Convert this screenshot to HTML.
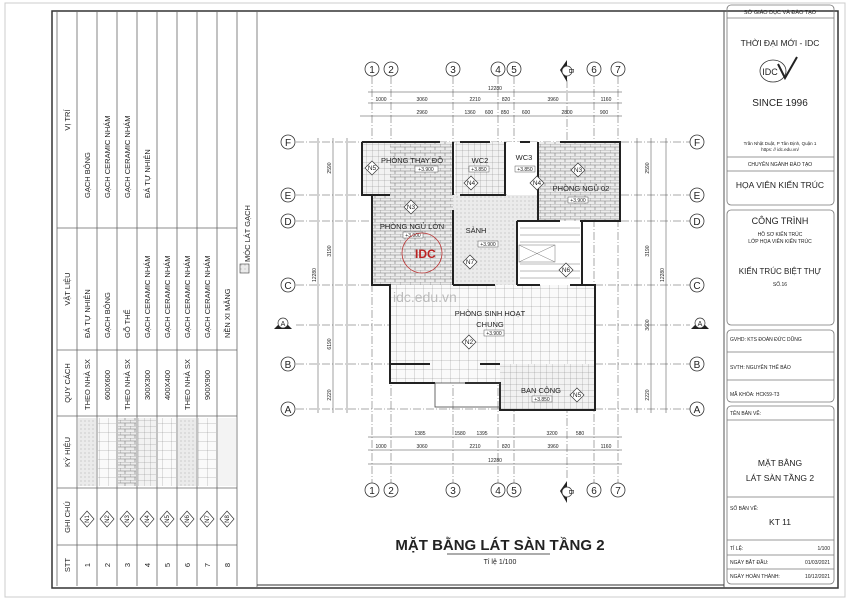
<!DOCTYPE html>
<html><head><meta charset="utf-8"><style>
html,body{margin:0;padding:0;background:#fff}
svg{display:block}
text{font-family:"Liberation Sans",sans-serif;fill:#222}
</style></head><body>
<svg width="850" height="601" viewBox="0 0 850 601" xmlns="http://www.w3.org/2000/svg">
<defs>
<pattern id="brick" width="10" height="6" patternUnits="userSpaceOnUse">
<rect width="10" height="6" fill="#ececec"/>
<path d="M0 0H10M0 3H10M0 0V3M5 3V6" stroke="#777" stroke-width="0.6" fill="none"/>
</pattern>
<pattern id="grid" width="9" height="9" patternUnits="userSpaceOnUse">
<rect width="9" height="9" fill="#fafafa"/>
<path d="M0 0H9M0 0V9" stroke="#888" stroke-width="0.5" fill="none"/>
</pattern>
<pattern id="grid6" width="6" height="6" patternUnits="userSpaceOnUse">
<rect width="6" height="6" fill="#f2f2f2"/>
<path d="M0 0H6M0 0V6" stroke="#888" stroke-width="0.5" fill="none"/>
</pattern>
<pattern id="dots" width="4" height="4" patternUnits="userSpaceOnUse">
<rect width="4" height="4" fill="#ebebeb"/>
<circle cx="1" cy="1" r="0.5" fill="#999"/>
</pattern>
</defs>

<rect x="5" y="3" width="840" height="594" fill="none" stroke="#ccc" stroke-width="1"/>
<rect x="52" y="11" width="786" height="577" fill="none" stroke="#333" stroke-width="1.5"/>
<line x1="724" y1="11" x2="724" y2="588" stroke="#555" stroke-width="1"/>
<line x1="257" y1="11" x2="257" y2="588" stroke="#666" stroke-width="0.8"/>

<g stroke="#666" stroke-width="0.8" fill="none">
<line x1="57" y1="12" x2="57" y2="586"/>
<line x1="77" y1="12" x2="77" y2="586"/>
<line x1="97" y1="12" x2="97" y2="586"/>
<line x1="117" y1="12" x2="117" y2="586"/>
<line x1="137" y1="12" x2="137" y2="586"/>
<line x1="157" y1="12" x2="157" y2="586"/>
<line x1="177" y1="12" x2="177" y2="586"/>
<line x1="197" y1="12" x2="197" y2="586"/>
<line x1="217" y1="12" x2="217" y2="586"/>
<line x1="237" y1="12" x2="237" y2="586"/>
<line x1="57" y1="228" x2="237" y2="228"/>
<line x1="57" y1="350" x2="237" y2="350"/>
<line x1="57" y1="416" x2="237" y2="416"/>
<line x1="57" y1="488" x2="237" y2="488"/>
<line x1="57" y1="545" x2="237" y2="545"/>
</g>
<rect x="78" y="418" width="18" height="68" fill="url(#dots)"/>
<rect x="98" y="418" width="18" height="68" fill="url(#grid)"/>
<rect x="118" y="418" width="18" height="68" fill="url(#brick)"/>
<rect x="138" y="418" width="18" height="68" fill="url(#grid6)"/>
<rect x="158" y="418" width="18" height="68" fill="url(#grid)"/>
<rect x="178" y="418" width="18" height="68" fill="url(#dots)"/>
<rect x="198" y="418" width="18" height="68" fill="url(#grid)"/>
<rect x="218" y="418" width="18" height="68" fill="#f3f3f3"/>
<g font-size="7.5">
<text transform="translate(70,565) rotate(-90)" text-anchor="middle">STT</text>
<text transform="translate(70,517) rotate(-90)" text-anchor="middle">GHI CHÚ</text>
<text transform="translate(70,452) rotate(-90)" text-anchor="middle">KÝ HIỆU</text>
<text transform="translate(70,383) rotate(-90)" text-anchor="middle">QUY CÁCH</text>
<text transform="translate(70,289) rotate(-90)" text-anchor="middle">VẬT LIỆU</text>
<text transform="translate(70,120) rotate(-90)" text-anchor="middle">VỊ TRÍ</text>
</g>
<g font-size="7.5" text-anchor="middle">
<text transform="translate(90,565) rotate(-90)">1</text>
<text transform="translate(110,565) rotate(-90)">2</text>
<text transform="translate(130,565) rotate(-90)">3</text>
<text transform="translate(150,565) rotate(-90)">4</text>
<text transform="translate(170,565) rotate(-90)">5</text>
<text transform="translate(190,565) rotate(-90)">6</text>
<text transform="translate(210,565) rotate(-90)">7</text>
<text transform="translate(230,565) rotate(-90)">8</text>
</g>
<g font-size="6" text-anchor="middle" stroke-width="0.7">
<g transform="translate(87,519)"><path d="M0 -8L7 0L0 8L-7 0Z" fill="#fff" stroke="#333"/><text transform="rotate(-90)" y="2">N1</text></g>
<g transform="translate(107,519)"><path d="M0 -8L7 0L0 8L-7 0Z" fill="#fff" stroke="#333"/><text transform="rotate(-90)" y="2">N2</text></g>
<g transform="translate(127,519)"><path d="M0 -8L7 0L0 8L-7 0Z" fill="#fff" stroke="#333"/><text transform="rotate(-90)" y="2">N3</text></g>
<g transform="translate(147,519)"><path d="M0 -8L7 0L0 8L-7 0Z" fill="#fff" stroke="#333"/><text transform="rotate(-90)" y="2">N4</text></g>
<g transform="translate(167,519)"><path d="M0 -8L7 0L0 8L-7 0Z" fill="#fff" stroke="#333"/><text transform="rotate(-90)" y="2">N5</text></g>
<g transform="translate(187,519)"><path d="M0 -8L7 0L0 8L-7 0Z" fill="#fff" stroke="#333"/><text transform="rotate(-90)" y="2">N6</text></g>
<g transform="translate(207,519)"><path d="M0 -8L7 0L0 8L-7 0Z" fill="#fff" stroke="#333"/><text transform="rotate(-90)" y="2">N7</text></g>
<g transform="translate(227,519)"><path d="M0 -8L7 0L0 8L-7 0Z" fill="#fff" stroke="#333"/><text transform="rotate(-90)" y="2">N8</text></g>
</g>
<g font-size="7.5">
<text transform="translate(90,410) rotate(-90)">THEO NHÀ SX</text>
<text transform="translate(110,400) rotate(-90)">600X600</text>
<text transform="translate(130,410) rotate(-90)">THEO NHÀ SX</text>
<text transform="translate(150,400) rotate(-90)">300X300</text>
<text transform="translate(170,400) rotate(-90)">400X400</text>
<text transform="translate(190,410) rotate(-90)">THEO NHÀ SX</text>
<text transform="translate(210,400) rotate(-90)">900X900</text>
<text transform="translate(90,338) rotate(-90)">ĐÁ TỰ NHIÊN</text>
<text transform="translate(110,338) rotate(-90)">GẠCH BÔNG</text>
<text transform="translate(130,338) rotate(-90)">GỖ THỂ</text>
<text transform="translate(150,338) rotate(-90)">GẠCH CERAMIC NHÁM</text>
<text transform="translate(170,338) rotate(-90)">GẠCH CERAMIC NHÁM</text>
<text transform="translate(190,338) rotate(-90)">GẠCH CERAMIC NHÁM</text>
<text transform="translate(210,338) rotate(-90)">GẠCH CERAMIC NHÁM</text>
<text transform="translate(230,338) rotate(-90)">NỀN XI MĂNG</text>
<text transform="translate(90,198) rotate(-90)">GẠCH BÔNG</text>
<text transform="translate(110,198) rotate(-90)">GẠCH CERAMIC NHÁM</text>
<text transform="translate(130,198) rotate(-90)">GẠCH CERAMIC NHÁM</text>
<text transform="translate(150,198) rotate(-90)">ĐÁ TỰ NHIÊN</text>
<text transform="translate(250,262) rotate(-90)">MÓC LÁT GẠCH</text>
</g>
<rect x="240" y="264" width="9" height="9" fill="url(#dots)" stroke="#444" stroke-width="0.6"/>

<g stroke="#555" stroke-width="0.5" stroke-dasharray="8,2,1,2" fill="none">
<line x1="372" y1="76" x2="372" y2="483"/>
<line x1="391" y1="76" x2="391" y2="483"/>
<line x1="453" y1="76" x2="453" y2="483"/>
<line x1="498" y1="76" x2="498" y2="483"/>
<line x1="514" y1="76" x2="514" y2="483"/>
<line x1="567" y1="80" x2="567" y2="480"/>
<line x1="594" y1="76" x2="594" y2="483"/>
<line x1="618" y1="76" x2="618" y2="483"/>
<line x1="296" y1="142" x2="690" y2="142"/>
<line x1="296" y1="195" x2="690" y2="195"/>
<line x1="296" y1="221" x2="690" y2="221"/>
<line x1="296" y1="285" x2="690" y2="285"/>
<line x1="296" y1="325" x2="690" y2="325"/>
<line x1="296" y1="364" x2="690" y2="364"/>
<line x1="296" y1="409" x2="690" y2="409"/>
</g>
<g font-size="10" text-anchor="middle" fill="#fff" stroke="#333" stroke-width="0.8">
<circle cx="372" cy="69" r="7"/><circle cx="391" cy="69" r="7"/><circle cx="453" cy="69" r="7"/><circle cx="498" cy="69" r="7"/><circle cx="514" cy="69" r="7"/><circle cx="594" cy="69" r="7"/><circle cx="618" cy="69" r="7"/>
<circle cx="372" cy="490" r="7"/><circle cx="391" cy="490" r="7"/><circle cx="453" cy="490" r="7"/><circle cx="498" cy="490" r="7"/><circle cx="514" cy="490" r="7"/><circle cx="594" cy="490" r="7"/><circle cx="618" cy="490" r="7"/>
<circle cx="288" cy="142" r="7"/><circle cx="288" cy="195" r="7"/><circle cx="288" cy="221" r="7"/><circle cx="288" cy="285" r="7"/><circle cx="288" cy="364" r="7"/><circle cx="288" cy="409" r="7"/>
<circle cx="697" cy="142" r="7"/><circle cx="697" cy="195" r="7"/><circle cx="697" cy="221" r="7"/><circle cx="697" cy="285" r="7"/><circle cx="697" cy="364" r="7"/><circle cx="697" cy="409" r="7"/>
</g>
<g font-size="10" text-anchor="middle">
<text x="372" y="73">1</text><text x="391" y="73">2</text><text x="453" y="73">3</text><text x="498" y="73">4</text><text x="514" y="73">5</text><text x="594" y="73">6</text><text x="618" y="73">7</text>
<text x="372" y="494">1</text><text x="391" y="494">2</text><text x="453" y="494">3</text><text x="498" y="494">4</text><text x="514" y="494">5</text><text x="594" y="494">6</text><text x="618" y="494">7</text>
<text x="288" y="146">F</text><text x="288" y="199">E</text><text x="288" y="225">D</text><text x="288" y="289">C</text><text x="288" y="368">B</text><text x="288" y="413">A</text>
<text x="697" y="146">F</text><text x="697" y="199">E</text><text x="697" y="225">D</text><text x="697" y="289">C</text><text x="697" y="368">B</text><text x="697" y="413">A</text>
</g>
<g fill="#222">
<path d="M567 60 L560 70 L567 82 Z"/><path d="M567 481 L560 491 L567 503 Z"/>
<path d="M274 329 L283 320 L292 329 Z"/><path d="M691 329 L700 320 L709 329 Z"/>
</g>
<g fill="#fff" stroke="#333" stroke-width="0.7"><circle cx="567" cy="71" r="5"/><circle cx="567" cy="492" r="5"/><circle cx="283" cy="323" r="5"/><circle cx="700" cy="323" r="5"/></g>
<g font-size="7" text-anchor="middle"><text x="283" y="326">A</text><text x="700" y="326">A</text>
<text transform="translate(569,71) rotate(90)">B</text><text transform="translate(569,492) rotate(90)">B</text></g>

<g stroke="#444" stroke-width="0.5">
<line x1="368" y1="92" x2="622" y2="92"/><line x1="368" y1="103" x2="622" y2="103"/><line x1="360" y1="116" x2="622" y2="116"/>
<line x1="368" y1="437" x2="622" y2="437"/><line x1="368" y1="450" x2="622" y2="450"/><line x1="368" y1="464" x2="622" y2="464"/>
<line x1="318" y1="138" x2="318" y2="413"/><line x1="333" y1="138" x2="333" y2="413"/><line x1="347" y1="138" x2="347" y2="413"/>
<line x1="637" y1="138" x2="637" y2="413"/><line x1="651" y1="138" x2="651" y2="413"/><line x1="666" y1="138" x2="666" y2="413"/>
</g>
<g font-size="5" text-anchor="middle" fill="#333">
<text x="495" y="90">12280</text>
<text x="381" y="101">1000</text><text x="422" y="101">3060</text><text x="475" y="101">2210</text><text x="506" y="101">820</text><text x="553" y="101">3960</text><text x="606" y="101">1160</text>
<text x="422" y="114">2960</text><text x="470" y="114">1360</text><text x="489" y="114">600</text><text x="505" y="114">850</text><text x="526" y="114">600</text><text x="567" y="114">2800</text><text x="604" y="114">900</text>
<text x="420" y="435">1385</text><text x="460" y="435">1580</text><text x="482" y="435">1395</text><text x="552" y="435">3200</text><text x="580" y="435">580</text>
<text x="381" y="448">1000</text><text x="422" y="448">3060</text><text x="475" y="448">2210</text><text x="506" y="448">820</text><text x="553" y="448">3960</text><text x="606" y="448">1160</text>
<text x="495" y="462">12280</text>
<text transform="translate(316,275) rotate(-90)">12280</text><text transform="translate(331,168) rotate(-90)">2590</text><text transform="translate(331,251) rotate(-90)">3190</text><text transform="translate(331,344) rotate(-90)">6190</text><text transform="translate(331,395) rotate(-90)">2220</text>
<text transform="translate(664,275) rotate(-90)">12280</text><text transform="translate(649,168) rotate(-90)">2590</text><text transform="translate(649,251) rotate(-90)">3190</text><text transform="translate(649,325) rotate(-90)">3600</text><text transform="translate(649,395) rotate(-90)">2220</text>
</g>

<rect x="362" y="142" width="28" height="53" fill="url(#grid6)"/>
<rect x="390" y="142" width="63" height="53" fill="url(#brick)"/>
<rect x="455" y="142" width="50" height="53" fill="url(#grid6)"/>
<rect x="507" y="142" width="32" height="53" fill="#fff"/>
<rect x="538" y="142" width="82" height="79" fill="url(#brick)"/>
<rect x="372" y="195" width="81" height="90" fill="url(#brick)"/>
<rect x="453" y="195" width="84" height="90" fill="url(#dots)"/>
<rect x="517" y="221" width="65" height="64" fill="#fff"/>
<rect x="390" y="285" width="205" height="79" fill="url(#grid)"/>
<rect x="390" y="364" width="110" height="19" fill="url(#grid)"/>
<rect x="500" y="364" width="95" height="46" fill="url(#grid6)"/>
<g stroke="#777" stroke-width="0.5">
<line x1="520" y1="228" x2="580" y2="228"/><line x1="520" y1="235" x2="580" y2="235"/><line x1="520" y1="242" x2="580" y2="242"/>
<line x1="520" y1="264" x2="580" y2="264"/><line x1="520" y1="271" x2="580" y2="271"/><line x1="520" y1="278" x2="580" y2="278"/>
<line x1="519" y1="245" x2="555" y2="262"/><line x1="555" y1="245" x2="519" y2="262"/>
<rect x="519" y="245" width="36" height="17" fill="none"/>
</g>
<g fill="none" stroke="#222" stroke-width="2">
<path d="M362 142 H440 M460 142 H490 M520 142 H530 M560 142 H620 V221 H580"/>
<path d="M362 142 V195 H372 V285 H390 V383 H435"/>
<path d="M465 383 H500 V410 H595 V285 H570 M540 285 H517 M495 285 H453"/>
<path d="M453 142 V195 M453 210 V285 M505 142 V195 H460 M538 142 V221 H560 M372 195 H390 M517 221 H540 M517 221 V285"/>
<path d="M372 285 H390 M390 364 H430 M480 364 H500"/>
<path d="M582 221 V285"/>
</g>
<rect x="435" y="383" width="65" height="24" fill="none" stroke="#444" stroke-width="0.8"/>
<g font-size="6.5" text-anchor="middle" stroke-width="0.7">
<g transform="translate(372,168)"><path d="M0 -7L7 0L0 7L-7 0Z" fill="#fff" stroke="#333"/><text y="2">N5</text></g>
<g transform="translate(471,183)"><path d="M0 -7L7 0L0 7L-7 0Z" fill="#fff" stroke="#333"/><text y="2">N4</text></g>
<g transform="translate(537,183)"><path d="M0 -7L7 0L0 7L-7 0Z" fill="#fff" stroke="#333"/><text y="2">N4</text></g>
<g transform="translate(578,170)"><path d="M0 -7L7 0L0 7L-7 0Z" fill="#fff" stroke="#333"/><text y="2">N3</text></g>
<g transform="translate(411,207)"><path d="M0 -7L7 0L0 7L-7 0Z" fill="#fff" stroke="#333"/><text y="2">N3</text></g>
<g transform="translate(470,262)"><path d="M0 -7L7 0L0 7L-7 0Z" fill="#fff" stroke="#333"/><text y="2">N7</text></g>
<g transform="translate(566,270)"><path d="M0 -7L7 0L0 7L-7 0Z" fill="#fff" stroke="#333"/><text y="2">N6</text></g>
<g transform="translate(469,342)"><path d="M0 -7L7 0L0 7L-7 0Z" fill="#fff" stroke="#333"/><text y="2">N2</text></g>
<g transform="translate(577,395)"><path d="M0 -7L7 0L0 7L-7 0Z" fill="#fff" stroke="#333"/><text y="2">N5</text></g>
</g>
<g font-size="7.5" text-anchor="middle">
<text x="412" y="163">PHÒNG THAY ĐỒ</text><text x="480" y="163">WC2</text><text x="524" y="160">WC3</text>
<text x="581" y="191">PHÒNG NGỦ 02</text><text x="412" y="229">PHÒNG NGỦ LỚN</text><text x="476" y="233">SẢNH</text>
<text x="490" y="316">PHÒNG SINH HOẠT</text><text x="490" y="327">CHUNG</text><text x="541" y="393">BAN CÔNG</text>
</g>
<g font-size="5" text-anchor="middle">
<rect x="415" y="166" width="23" height="6" fill="#fff" stroke="#333" stroke-width="0.4"/><text x="426" y="171">+3.900</text>
<rect x="469" y="166" width="20" height="6" fill="#fff" stroke="#333" stroke-width="0.4"/><text x="479" y="171">+3.850</text>
<rect x="515" y="166" width="20" height="6" fill="#fff" stroke="#333" stroke-width="0.4"/><text x="525" y="171">+3.850</text>
<rect x="568" y="197" width="20" height="6" fill="#fff" stroke="#333" stroke-width="0.4"/><text x="578" y="202">+3.900</text>
<rect x="403" y="232" width="20" height="6" fill="#fff" stroke="#333" stroke-width="0.4"/><text x="413" y="237">+3.900</text>
<rect x="478" y="241" width="20" height="6" fill="#fff" stroke="#333" stroke-width="0.4"/><text x="488" y="246">+3.900</text>
<rect x="484" y="330" width="20" height="6" fill="#fff" stroke="#333" stroke-width="0.4"/><text x="494" y="335">+3.900</text>
<rect x="532" y="396" width="20" height="6" fill="#fff" stroke="#333" stroke-width="0.4"/><text x="542" y="401">+3.850</text>
</g>
<circle cx="422" cy="253" r="20" fill="none" stroke="#b33" stroke-width="0.8"/>
<text x="415" y="258" font-family="Liberation Serif,serif" font-weight="bold" font-size="12" style="fill:#b22">IDC</text>
<text x="393" y="302" font-size="14" style="fill:#bbb">idc.edu.vn</text>

<text x="500" y="550" text-anchor="middle" font-size="15" font-weight="bold">MẶT BẰNG LÁT SÀN TẦNG 2</text>
<line x1="447" y1="554" x2="550" y2="554" stroke="#222" stroke-width="0.7"/>
<text x="500" y="564" text-anchor="middle" font-size="7">Tỉ lệ 1/100</text>
<line x1="257" y1="585" x2="724" y2="585" stroke="#333" stroke-width="1"/>

<g fill="none" stroke="#777" stroke-width="0.8">
<rect x="727" y="5" width="107" height="200" rx="4"/>
<rect x="727" y="210" width="107" height="115" rx="4"/>
<rect x="727" y="330" width="107" height="72" rx="4"/>
<rect x="727" y="406" width="107" height="178" rx="4"/>
<line x1="727" y1="18" x2="834" y2="18"/>
<line x1="727" y1="157" x2="834" y2="157"/><line x1="727" y1="171" x2="834" y2="171"/>
<line x1="727" y1="352" x2="834" y2="352"/><line x1="727" y1="380" x2="834" y2="380"/>
<line x1="727" y1="420" x2="834" y2="420"/><line x1="727" y1="497" x2="834" y2="497"/>
<line x1="727" y1="540" x2="834" y2="540"/><line x1="727" y1="555" x2="834" y2="555"/><line x1="727" y1="569" x2="834" y2="569"/>
</g>
<g text-anchor="middle">
<text x="780" y="14" font-size="5.5">SỞ GIÁO DỤC VÀ ĐÀO TẠO</text>
<text x="780" y="46" font-size="8.5">THỜI ĐẠI MỚI - IDC</text>
<ellipse cx="773" cy="71" rx="13" ry="11" fill="none" stroke="#333" stroke-width="0.8"/>
<text x="770" y="75" font-family="Liberation Serif,serif" font-size="9">IDC</text>
<path d="M778 64 L785 78 L797 57" fill="none" stroke="#222" stroke-width="2"/>
<text x="780" y="106" font-size="10">SINCE 1996</text>
<text x="780" y="145" font-size="4.5">Trần Nhật Duật, P Tân Định, Quận 1</text>
<text x="780" y="151" font-size="4.5">https: // idc.edu.vn/</text>
<text x="780" y="166" font-size="5">CHUYÊN NGÀNH ĐÀO TẠO</text>
<text x="780" y="188" font-size="8.5">HỌA VIÊN KIẾN TRÚC</text>
<text x="780" y="224" font-size="9">CÔNG TRÌNH</text>
<text x="780" y="236" font-size="5">HỒ SƠ KIẾN TRÚC</text>
<text x="780" y="243" font-size="5">LỚP HỌA VIÊN KIẾN TRÚC</text>
<text x="780" y="274" font-size="8">KIẾN TRÚC BIỆT THỰ</text>
<text x="780" y="286" font-size="5">SỐ.16</text>
<text x="780" y="466" font-size="8.5">MẶT BẰNG</text>
<text x="780" y="481" font-size="8.5">LÁT SÀN TẦNG 2</text>
<text x="780" y="525" font-size="8.5">KT 11</text>
</g>
<g font-size="5">
<text x="730" y="341">GVHD: KTS ĐOÀN ĐỨC DŨNG</text>
<text x="730" y="369">SVTH:  NGUYỄN THẾ BẢO</text>
<text x="730" y="396">MÃ KHÓA:  HCK59-T3</text>
<text x="730" y="415">TÊN BẢN VẼ:</text>
<text x="730" y="510">SỐ BẢN VẼ:</text>
<text x="730" y="550">TỈ LỆ:</text><text x="830" y="550" text-anchor="end">1/100</text>
<text x="730" y="564">NGÀY BẮT ĐẦU:</text><text x="830" y="564" text-anchor="end">01/03/2021</text>
<text x="730" y="578">NGÀY HOÀN THÀNH:</text><text x="830" y="578" text-anchor="end">10/12/2021</text>
</g>
</svg>
</body></html>
